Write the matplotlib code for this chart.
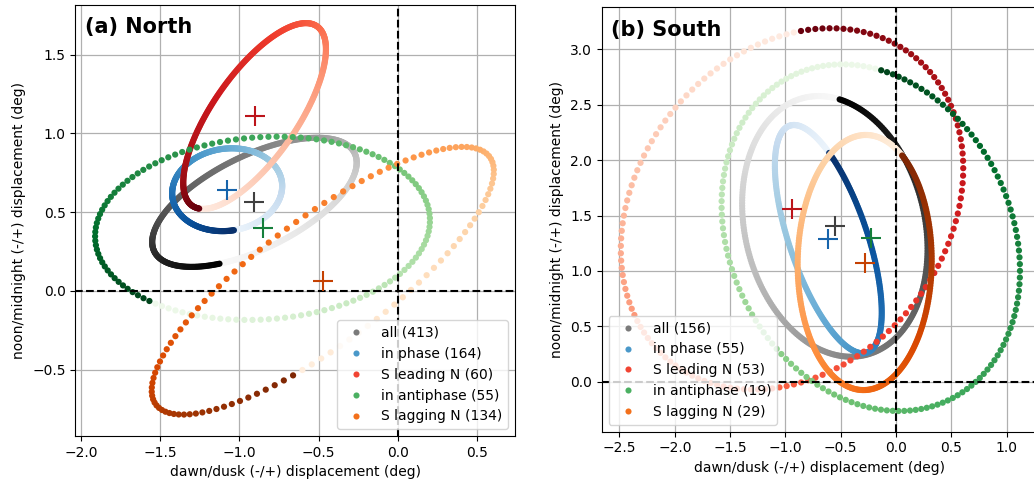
import numpy as np
import matplotlib
matplotlib.use("Agg")
import matplotlib.pyplot as plt
from matplotlib.lines import Line2D

# ---------------------------------------------------------------
# annual loops: x = x0 + ax*cos(t - phx), y = y0 + ay*cos(t - phy)
# (phases in degrees)
# ---------------------------------------------------------------
labels_n = ["all (413)", "in phase (164)", "S leading N (60)",
            "in antiphase (55)", "S lagging N (134)"]
labels_s = ["all (156)", "in phase (55)", "S leading N (53)",
            "in antiphase (19)", "S lagging N (29)"]
cmaps = ["Greys", "Blues", "Reds", "Greens", "Oranges"]

north_x0 = [-0.905, -1.077, -0.904, -0.854, -0.474]
north_y0 = [0.563, 0.643, 1.111, 0.398, 0.065]
north_ax = [0.645, 0.347, 0.450, 1.056, 1.079]
north_ay = [0.410, 0.263, 0.590, 0.582, 0.850]
north_phx = [110, 83, 141, 132.5, 100]
north_phy = [162, 168, 185, 217.5, 135]
north_n = [365, 365, 365, 130, 115]

south_x0 = [-0.553, -0.612, -0.940, -0.228, -0.283]
south_y0 = [1.402, 1.287, 1.560, 1.300, 1.076]
south_ax = [0.838, 0.483, 1.548, 1.349, 0.606]
south_ay = [1.176, 1.030, 1.630, 1.564, 1.151]
south_phx = [-87, -89, -87, -86, -56]
south_phy = [13, 41, -10, 15, 33]
south_n = [300, 300, 150, 160, 300]

#------------------------------------------------------------------------------
def loop( x0, y0, ax_, ay_, phx, phy, n ):
    t = np.linspace(0, 360, n)
    x = x0 + ax_*np.cos(np.radians(t - phx))
    y = y0 + ay_*np.cos(np.radians(t - phy))
    return x, y

def panel( ax, x0s, y0s, axs, ays, phxs, phys, ns, labels, title, loc ):
    for i in range(5):
        cm = plt.get_cmap(cmaps[i])
        x, y = loop(x0s[i], y0s[i], axs[i], ays[i], phxs[i], phys[i], ns[i])
        ax.scatter(x, y, c=np.linspace(0.05, 1, ns[i]), cmap=cm, vmin=0, vmax=1,
                   s=20, linewidths=0, zorder=2)
    for i in range(5):
        cm = plt.get_cmap(cmaps[i])
        ax.plot(x0s[i], y0s[i], '+', color=cm(0.8), ms=15, mew=1.5, zorder=4)
    ax.axhline(0, color='k', ls='--', lw=1.5, zorder=3)
    ax.axvline(0, color='k', ls='--', lw=1.5, zorder=3)
    ax.grid(True, color='#b0b0b0', lw=0.9, zorder=0)
    ax.set_axisbelow(True)
    handles = [Line2D([], [], ls='', marker='o', ms=4.4, mew=0,
                      color=plt.get_cmap(c)(0.6)) for c in cmaps]
    ax.legend(handles, labels, loc=loc, fontsize=10, numpoints=1)
    ax.annotate(title, xy=(0, 1), xycoords='axes fraction', xytext=(7, -9),
                textcoords='offset points', ha='left', va='top',
                fontsize=15, fontweight='bold')
    ax.set_xlabel('dawn/dusk (-/+) displacement (deg)')
    ax.set_ylabel('noon/midnight (-/+) displacement (deg)')

#------------------------------------------------------------------------------
fig = plt.figure(figsize=(10.34, 4.84), dpi=100)

axn = fig.add_axes([0.0728, 0.0992, 0.4252, 0.8911])
panel(axn, north_x0, north_y0, north_ax, north_ay, north_phx, north_phy, north_n,
      labels_n, '(a) North', 'lower right')
axn.set_xlim(-2.035, 0.738)
axn.set_ylim(-0.921, 1.818)
axn.set_xticks(np.arange(-2.0, 0.51, 0.5))
axn.set_yticks(np.arange(-0.5, 1.51, 0.5))

axs = fig.add_axes([0.5819, 0.108, 0.421, 0.8769])
panel(axs, south_x0, south_y0, south_ax, south_ay, south_phx, south_phy, south_n,
      labels_s, '(b) South', 'lower left')
axs.set_xlim(-2.661, 1.275)
axs.set_ylim(-0.451, 3.379)
axs.set_xticks(np.arange(-2.5, 1.01, 0.5))
axs.set_yticks(np.arange(0.0, 3.01, 0.5))

fig.savefig('out.png', dpi=100)
